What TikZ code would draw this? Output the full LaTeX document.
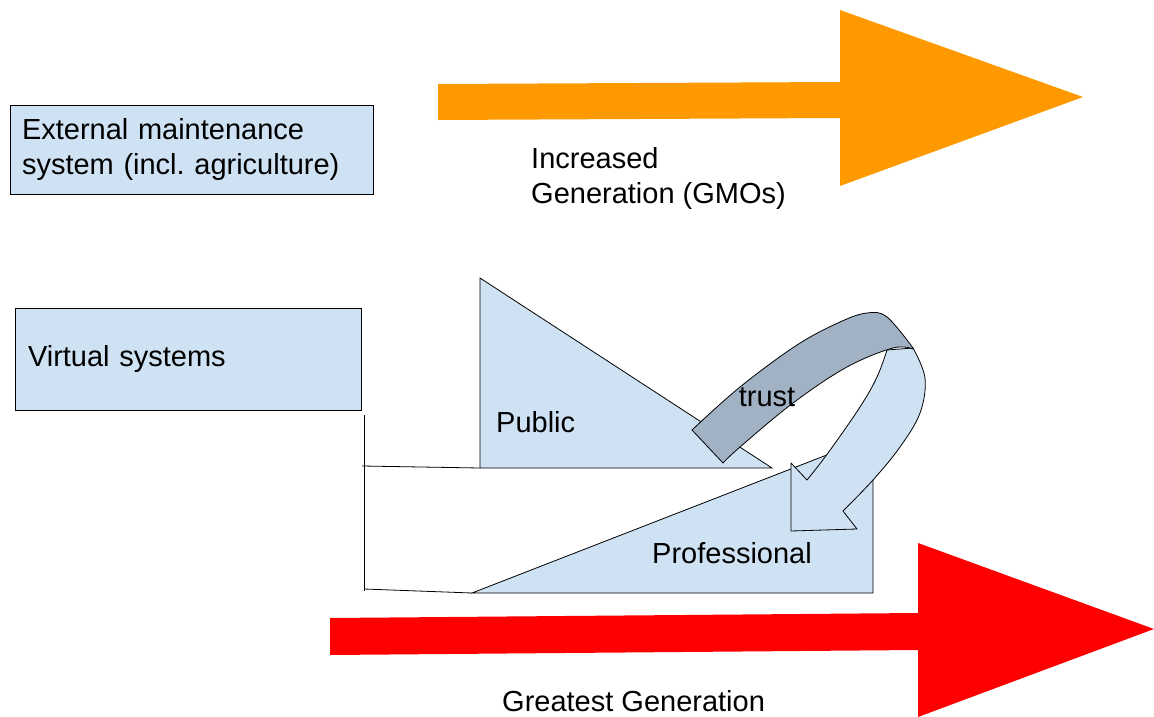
\documentclass[tikz,border=0pt]{standalone}
\usepackage{fontspec}
\setmainfont{Liberation Sans}
\frenchspacing
\definecolor{lblue}{HTML}{CFE2F3}
\definecolor{gblue}{HTML}{A0B2C4}
\definecolor{orng}{HTML}{FF9900}
\definecolor{rd}{HTML}{FF0000}
\tikzset{
  box/.style={draw=black, line width=0.8pt, fill=lblue, align=left, anchor=center, inner ysep=0pt},
  lbl/.style={anchor=west, inner sep=0pt, align=left},
  shp/.style={draw=black, line width=0.8pt, fill=lblue, line join=miter},
  thin/.style={draw=black, line width=0.8pt}
}
\begin{document}
\begin{tikzpicture}[x=1pt,y=-1pt,font=\fontsize{29}{35}\selectfont]
\useasboundingbox (0,0) rectangle (1154,717);
% boxes
\node[box, minimum width=363pt, minimum height=89pt, text width=339pt, inner xsep=12pt] (ext) at (191.5,149.5) {External maintenance\\system (incl. agriculture)};
\node[box, minimum width=346pt, minimum height=102pt, text width=320pt, inner xsep=13pt] (virt) at (188,359) {Virtual systems};
% orange arrow
\fill[orng] (438,84) -- (840,82) -- (840,10) -- (1083,97) -- (840,186) -- (840,118) -- (438,120) -- cycle;
\node[lbl] (inc) at (531,178.5) {Increased\\Generation (GMOs)};
% red arrow
\fill[rd] (330,618) -- (918,613) -- (918,543) -- (1154,629) -- (918,717) -- (918,650) -- (330,655) -- cycle;
\node[lbl] (great) at (502,701) {Greatest Generation};
% bracket lines
\draw[thin] (364,415) -- (364,591);
\draw[thin] (362,466) -- (480,468);
\draw[thin] (364,589) -- (472,593);
% public triangle
\draw[shp] (480,278) -- (480,468) -- (772,468) -- cycle;
\node[lbl] (pub) at (496,422) {Public};
% professional triangle
\draw[shp] (472,593) -- (873,593) -- (873,437) -- cycle;
\node[lbl] (prof) at (652,553) {Professional};
% curved arrow, light part
\draw[shp, line join=round] plot[smooth, tension=0.6] coordinates {(887,350) (877,377) (860,407) (828,453) (807,480)}
  -- (791,463) -- (791,531) -- (857,529) -- (843,511)
  -- plot[smooth, tension=0.6] coordinates {(843,511) (873,480) (900,447) (920,413) (925,378) (913,348)} -- cycle;
% curved arrow, grey part
\draw[shp, fill=gblue, line join=round] plot[smooth, tension=0.6] coordinates {(692,430) (740,387) (797,345) (840,322) (867,313) (887,317) (913,348)}
  -- plot[smooth, tension=0.6] coordinates {(913,349) (893,348) (847,367) (793,403) (740,447) (723,463)} -- cycle;
\node[inner sep=0pt] (trust) at (767,397) {trust};
\end{tikzpicture}
\end{document}
